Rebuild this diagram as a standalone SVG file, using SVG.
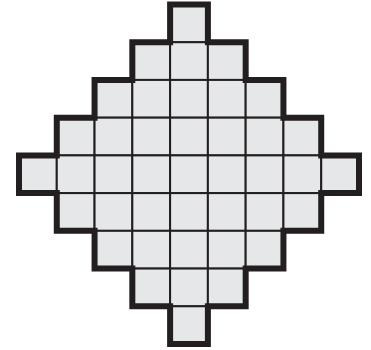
<svg xmlns="http://www.w3.org/2000/svg" width="371" height="350" viewBox="0 0 371 350">
<style>
.cell{fill:#e6e7e8;stroke:#231f20;stroke-width:2}
.outline{fill:none;stroke:#231f20;stroke-width:6;stroke-linejoin:miter;stroke-miterlimit:10}
</style>
<rect width="371" height="350" fill="#ffffff"/>
<g id="cells">
<g id="row0">
<rect class="cell" x="170.11" y="4.5" width="37.78" height="37.72"/>
</g>
<g id="row1">
<rect class="cell" x="132.33" y="42.22" width="37.78" height="37.72"/>
<rect class="cell" x="170.11" y="42.22" width="37.78" height="37.72"/>
<rect class="cell" x="207.89" y="42.22" width="37.78" height="37.72"/>
</g>
<g id="row2">
<rect class="cell" x="94.56" y="79.94" width="37.78" height="37.72"/>
<rect class="cell" x="132.33" y="79.94" width="37.78" height="37.72"/>
<rect class="cell" x="170.11" y="79.94" width="37.78" height="37.72"/>
<rect class="cell" x="207.89" y="79.94" width="37.78" height="37.72"/>
<rect class="cell" x="245.67" y="79.94" width="37.78" height="37.72"/>
</g>
<g id="row3">
<rect class="cell" x="56.78" y="117.67" width="37.78" height="37.72"/>
<rect class="cell" x="94.56" y="117.67" width="37.78" height="37.72"/>
<rect class="cell" x="132.33" y="117.67" width="37.78" height="37.72"/>
<rect class="cell" x="170.11" y="117.67" width="37.78" height="37.72"/>
<rect class="cell" x="207.89" y="117.67" width="37.78" height="37.72"/>
<rect class="cell" x="245.67" y="117.67" width="37.78" height="37.72"/>
<rect class="cell" x="283.44" y="117.67" width="37.78" height="37.72"/>
</g>
<g id="row4">
<rect class="cell" x="19" y="155.39" width="37.78" height="37.72"/>
<rect class="cell" x="56.78" y="155.39" width="37.78" height="37.72"/>
<rect class="cell" x="94.56" y="155.39" width="37.78" height="37.72"/>
<rect class="cell" x="132.33" y="155.39" width="37.78" height="37.72"/>
<rect class="cell" x="170.11" y="155.39" width="37.78" height="37.72"/>
<rect class="cell" x="207.89" y="155.39" width="37.78" height="37.72"/>
<rect class="cell" x="245.67" y="155.39" width="37.78" height="37.72"/>
<rect class="cell" x="283.44" y="155.39" width="37.78" height="37.72"/>
<rect class="cell" x="321.22" y="155.39" width="37.78" height="37.72"/>
</g>
<g id="row5">
<rect class="cell" x="56.78" y="193.11" width="37.78" height="37.72"/>
<rect class="cell" x="94.56" y="193.11" width="37.78" height="37.72"/>
<rect class="cell" x="132.33" y="193.11" width="37.78" height="37.72"/>
<rect class="cell" x="170.11" y="193.11" width="37.78" height="37.72"/>
<rect class="cell" x="207.89" y="193.11" width="37.78" height="37.72"/>
<rect class="cell" x="245.67" y="193.11" width="37.78" height="37.72"/>
<rect class="cell" x="283.44" y="193.11" width="37.78" height="37.72"/>
</g>
<g id="row6">
<rect class="cell" x="94.56" y="230.83" width="37.78" height="37.72"/>
<rect class="cell" x="132.33" y="230.83" width="37.78" height="37.72"/>
<rect class="cell" x="170.11" y="230.83" width="37.78" height="37.72"/>
<rect class="cell" x="207.89" y="230.83" width="37.78" height="37.72"/>
<rect class="cell" x="245.67" y="230.83" width="37.78" height="37.72"/>
</g>
<g id="row7">
<rect class="cell" x="132.33" y="268.56" width="37.78" height="37.72"/>
<rect class="cell" x="170.11" y="268.56" width="37.78" height="37.72"/>
<rect class="cell" x="207.89" y="268.56" width="37.78" height="37.72"/>
</g>
<g id="row8">
<rect class="cell" x="170.11" y="306.28" width="37.78" height="37.72"/>
</g>
</g>
<g id="outline">
<path class="outline" d="M170.11,4.5 H207.89 V42.22 H245.67 V79.94 H283.44 V117.67 H321.22 V155.39 H359 V193.11 H321.22 V230.83 H283.44 V268.56 H245.67 V306.28 H207.89 V344 H170.11 V306.28 H132.33 V268.56 H94.56 V230.83 H56.78 V193.11 H19 V155.39 H56.78 V117.67 H94.56 V79.94 H132.33 V42.22 H170.11 Z"/>
</g>
</svg>
